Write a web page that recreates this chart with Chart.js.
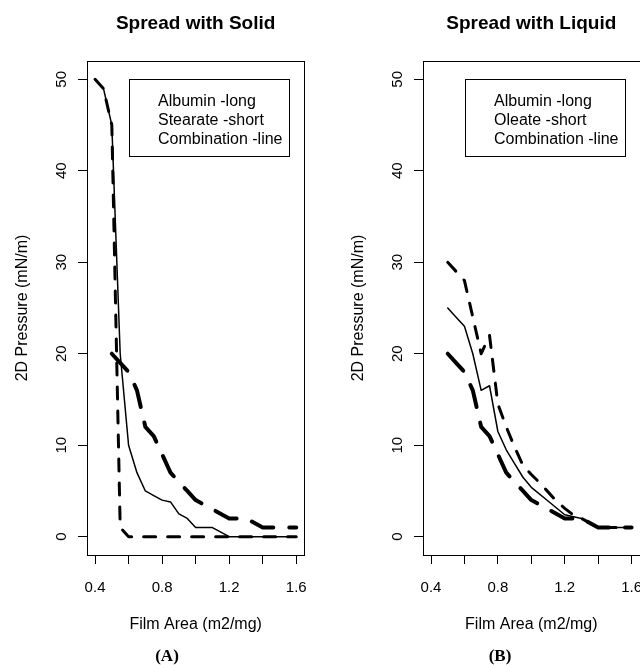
<!DOCTYPE html>
<html>
<head>
<meta charset="utf-8">
<script src="https://cdn.jsdelivr.net/npm/chart.js@4/dist/chart.umd.min.js"></script>
<style>
  html, body { margin: 0; padding: 0; background: #fff; }
  #wrap { position: relative; width: 640px; height: 665px; overflow: hidden; }
  canvas { position: absolute; top: 0; }
  #solidChart { left: 0; }
  #liquidChart { left: 332px; }
  .caption {
    position: absolute; top: 645px; width: 60px; margin-left: -30px;
    text-align: center; font: bold 17px "Liberation Serif", "Times New Roman", serif; line-height: 22px;
  }
</style>
</head>
<body>
<div id="wrap">
  <canvas id="solidChart" width="336" height="665"></canvas>
  <canvas id="liquidChart" width="336" height="665"></canvas>
  <div class="caption" style="left:167px">(A)</div>
  <div class="caption" style="left:500px">(B)</div>
</div>
<script>
// Film area (m2/mg) and 2D pressure (mN/m)
const albuminArea = [0.5, 0.55, 0.6, 0.65, 0.7, 0.75, 0.8, 0.85, 0.9, 0.95, 1.0, 1.1, 1.2, 1.3, 1.4, 1.5, 1.6];
const albuminPressure = [20, 19, 18, 16, 12, 11, 9, 7, 6, 5, 4, 3, 2, 2, 1, 1, 1];

const stearateArea = [0.4, 0.45, 0.5, 0.55, 0.6, 0.7, 0.8, 0.9, 1.0, 1.1, 1.2, 1.3, 1.4, 1.5, 1.6];
const stearatePressure = [50, 49, 45, 1, 0, 0, 0, 0, 0, 0, 0, 0, 0, 0, 0];

const solidComboArea = [0.4, 0.45, 0.5, 0.55, 0.6, 0.65, 0.7, 0.75, 0.8, 0.85, 0.9, 0.95, 1.0, 1.1, 1.2, 1.3, 1.4, 1.5, 1.6];
const solidComboPressure = [50, 49, 45, 20, 10, 7, 5, 4.5, 4, 3.8, 2.5, 2, 1, 1, 0, 0, 0, 0, 0];

const oleateArea = [0.5, 0.55, 0.6, 0.65, 0.7, 0.75, 0.8, 0.85, 0.9, 0.95, 1.0, 1.05, 1.1, 1.15, 1.2, 1.25, 1.3, 1.4, 1.5, 1.6];
const oleatePressure = [30, 29, 28, 24, 20, 22, 14.5, 12, 9.8, 7.8, 6.8, 5.9, 4.9, 3.9, 3.1, 2.4, 2, 1, 1, 1];

const liquidComboArea = [0.5, 0.55, 0.6, 0.65, 0.7, 0.75, 0.8, 0.85, 0.9, 0.95, 1.0, 1.1, 1.2, 1.3, 1.4, 1.5, 1.6];
const liquidComboPressure = [25, 24, 23, 20, 16, 16.5, 11.5, 9.5, 8, 6.5, 5.4, 3.9, 2.4, 2, 1, 1, 1];

const xTicks = [0.4, 0.6, 0.8, 1.0, 1.2, 1.4, 1.6];
const xTickLabels = ['0.4', '0.8', '1.2', '1.6'];
const yTicks = [0, 10, 20, 30, 40, 50];

const sans = 'Liberation Sans, Arial, sans-serif';
Chart.defaults.font.family = sans;
Chart.defaults.color = '#000';

const pts = (xs, ys) => xs.map((x, i) => ({ x: x, y: ys[i] }));

// plot box + text-only legend in the top right corner, like base R
const framePlugin = {
  id: 'frame',
  afterDraw(chart) {
    const { ctx, chartArea: a } = chart;
    ctx.save();
    ctx.strokeStyle = '#000';
    ctx.lineWidth = 1;
    const l = Math.round(a.left) + 0.5, t = Math.round(a.top) + 0.5;
    ctx.strokeRect(l, t, Math.round(a.right) - Math.round(a.left), Math.round(a.bottom) - Math.round(a.top));

    const boxR = Math.round(a.right - 15), boxL = boxR - 160, boxT = Math.round(a.top + 18);
    ctx.strokeRect(boxL + 0.5, boxT + 0.5, 160, 77);
    ctx.font = '16px ' + sans;
    ctx.fillStyle = '#000';
    ctx.textBaseline = 'middle';
    chart.data.datasets.forEach((ds, i) => ctx.fillText(ds.label, boxL + 29, boxT + 22.5 + i * 19));
    ctx.restore();
  }
};

function makePanel(id, title, datasets, yWidth, yTitlePad, padRight) {
  return new Chart(document.getElementById(id), {
    type: 'line',
    data: { datasets: datasets },
    plugins: [framePlugin],
    options: {
      responsive: false,
      animation: false,
      devicePixelRatio: 1,
      layout: { padding: { left: 0, right: padRight, top: 0, bottom: 30 } },
      elements: { point: { radius: 0 }, line: { tension: 0, borderCapStyle: 'round', borderJoinStyle: 'round', borderColor: '#000' } },
      plugins: {
        legend: { display: false },
        tooltip: { enabled: false },
        title: {
          display: true, text: title, fullSize: false,
          font: { size: 19, weight: 'bold' },
          padding: { top: 12, bottom: 26.2 }
        }
      },
      scales: {
        x: {
          type: 'linear', min: 0.352, max: 1.648,
          afterBuildTicks: s => { s.ticks = xTicks.map(v => ({ value: v })); },
          afterFit: s => { s.height = 80; },
          ticks: {
            autoSkip: false, maxRotation: 0, padding: 15, font: { size: 15 },
            callback: v => { const t = Number(v).toFixed(1); return xTickLabels.includes(t) ? t : ''; }
          },
          grid: { drawOnChartArea: false, drawTicks: true, tickLength: 9, color: '#000' },
          border: { display: true, color: '#000' },
          title: { display: true, text: 'Film Area (m2/mg)', font: { size: 16 }, padding: { top: 0, bottom: 0.4 } }
        },
        y: {
          type: 'linear', min: -2, max: 52,
          afterBuildTicks: s => { s.ticks = yTicks.map(v => ({ value: v })); },
          afterFit: s => { s.width = yWidth; },
          ticks: { minRotation: 90, maxRotation: 90, crossAlign: 'center', padding: 8, font: { size: 15 } },
          grid: { drawOnChartArea: false, drawTicks: true, tickLength: 9, color: '#000' },
          border: { display: true, color: '#000' },
          title: { display: true, text: '2D Pressure (mN/m)', font: { size: 16 }, padding: { top: yTitlePad, bottom: 0 } }
        }
      }
    }
  });
}

const longDash = { borderWidth: 4, borderDash: [23, 16] };
const shortDash = { borderWidth: 3, borderDash: [12, 12] };
const plainLine = { borderWidth: 1.5, borderDash: [] };

makePanel('solidChart', 'Spread with Solid', [
  Object.assign({ label: 'Albumin -long', data: pts(albuminArea, albuminPressure) }, longDash),
  Object.assign({ label: 'Stearate -short', data: pts(stearateArea, stearatePressure) }, shortDash),
  Object.assign({ label: 'Combination -line', data: pts(solidComboArea, solidComboPressure) }, plainLine)
], 87, 13, 31.7);

makePanel('liquidChart', 'Spread with Liquid', [
  Object.assign({ label: 'Albumin -long', data: pts(albuminArea, albuminPressure) }, longDash),
  Object.assign({ label: 'Oleate -short', data: pts(oleateArea, oleatePressure) }, shortDash),
  Object.assign({ label: 'Combination -line', data: pts(liquidComboArea, liquidComboPressure) }, plainLine)
], 91, 17, 28.4);
</script>
</body>
</html>
